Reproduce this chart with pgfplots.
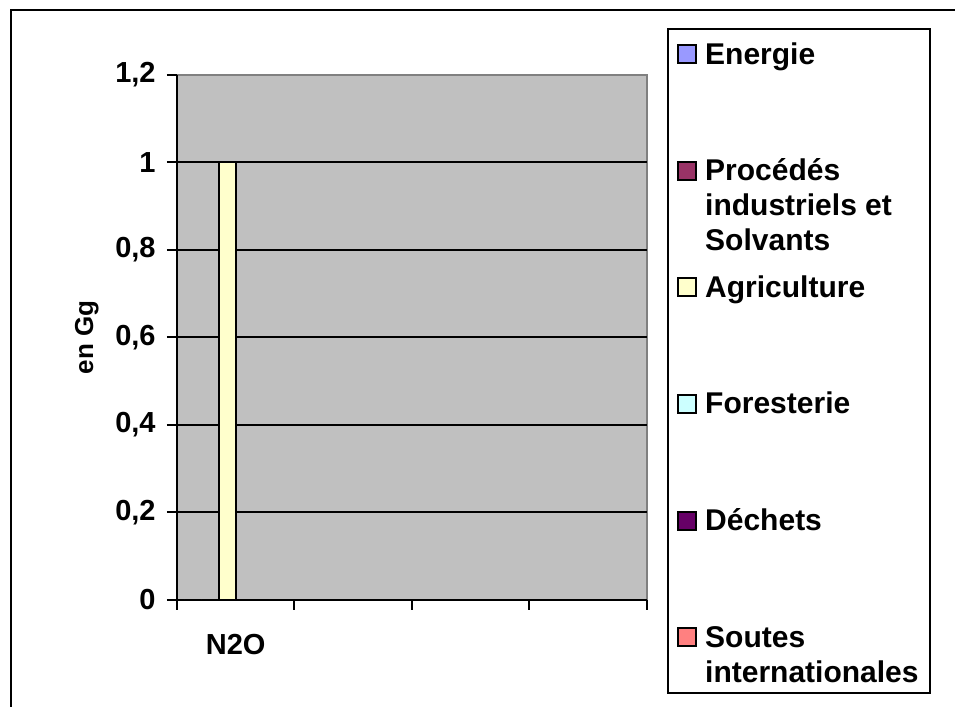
\documentclass[border=0pt]{standalone}
\usepackage{pgfplots}
\pgfplotsset{compat=1.18}
\usepackage{fontspec}
\setmainfont{Liberation Sans}

\definecolor{plotbg}{HTML}{C0C0C0}
\definecolor{frameg}{HTML}{808080}
\definecolor{energie}{HTML}{9999FF}
\definecolor{procedes}{HTML}{993366}
\definecolor{agri}{HTML}{FFFFCC}
\definecolor{forest}{HTML}{CCFFFF}
\definecolor{dechets}{HTML}{660066}
\definecolor{soutes}{HTML}{FF8080}

% legend text: fixed-width column, baseline on the first line
\newcommand\entry[1]{\makebox[108pt][l]{%
  \vtop{\baselineskip=17.5pt\lineskiplimit=0pt\lineskip=0pt #1}}}

% square legend key; the invisible path sets the height of each legend row
\tikzset{legdepth/.initial=43.8pt}
\pgfplotsset{
  legbox/.style={legend image code/.code={%
    \begin{scope}[##1]
    \draw[line width=1pt] (0.5pt,0.5pt) rectangle (9.5pt,9.5pt);
    \path[draw=none,fill=none] (14pt,14.5pt) -- (14pt,-\pgfkeysvalueof{/tikz/legdepth});
    \end{scope}}},
}

\begin{document}
\begin{tikzpicture}
\useasboundingbox (0,0) rectangle (477.5pt,353.5pt);
\draw[line width=0.75pt] (5.5pt,0pt) -- (5.5pt,348.5pt) -- (477.5pt,348.5pt);
\begin{axis}[
  scale only axis, width=235pt, height=262.5pt,
  at={(88.5pt,53.5pt)}, anchor=south west,
  xmin=0, xmax=4, ymin=0, ymax=1.2,
  xtick={0,1,2,3,4}, xticklabels={N2O,,,}, x tick label as interval,
  ytick={0,0.2,0.4,0.6,0.8,1,1.2},
  extra y ticks={0.2,0.4,0.6,0.8,1}, extra y tick labels={},
  extra y tick style={ymajorgrids=true, major tick length=0pt},
  grid style={black, line width=1pt},
  axis background/.style={fill=plotbg, draw=frameg, line width=1pt},
  axis x line*=bottom, axis y line*=left,
  axis line style={black, line width=1pt, -},
  tick style={black, line width=1pt},
  tick align=outside, major tick length=5pt,
  ticklabel style={font=\fontsize{14.5}{16}\selectfont\bfseries},
  /pgf/number format/.cd, use comma, fixed, precision=1, assume math mode=true,
  /pgfplots/.cd,
  yticklabel style={anchor=east, inner sep=0pt, xshift=-5.5pt},
  xticklabel style={anchor=base, inner sep=0pt, yshift=-22.5pt},
  ylabel={en Gg},
  ylabel style={font=\fontsize{13}{15}\selectfont\bfseries,
    at={(axis description cs:-0.1787,0.5)}, anchor=base},
  ybar=0pt, bar width=0.1447,
  every axis plot post/.append style={legbox},
  legend cell align=left,
  legend style={at={(axis description cs:1.0426,1.08952)}, anchor=north west,
    draw=black, line width=1.2pt, fill=white,
    inner xsep=4.5pt, inner ysep=3pt, row sep=0pt, column sep=0pt,
    font=\fontsize{15}{17.5}\selectfont\bfseries},
]
\addplot[fill=energie, draw=black, line width=1pt] coordinates {(0.5,0)};
\addlegendentry[anchor=base west, inner sep=0pt]{\entry{\hbox{Energie}}}
\addplot[fill=procedes, draw=black, line width=1pt] coordinates {(0.5,0)};
\addlegendentry[anchor=base west, inner sep=0pt]{\entry{\hbox{Procédés}\hbox{industriels et}\hbox{Solvants}}}
\addplot[fill=agri, draw=black, line width=1pt] coordinates {(0.5,1)};
\addlegendentry[anchor=base west, inner sep=0pt]{\entry{\hbox{Agriculture}}}
\addplot[fill=forest, draw=black, line width=1pt] coordinates {(0.5,0)};
\addlegendentry[anchor=base west, inner sep=0pt]{\entry{\hbox{Foresterie}}}
\addplot[fill=dechets, draw=black, line width=1pt] coordinates {(0.5,0)};
\addlegendentry[anchor=base west, inner sep=0pt]{\entry{\hbox{Déchets}}}
\addplot[fill=soutes, draw=black, line width=1pt, legdepth=20pt] coordinates {(0.5,0)};
\addlegendentry[anchor=base west, inner sep=0pt]{\entry{\hbox{Soutes}\hbox{internationales}}}
\end{axis}
\end{tikzpicture}
\end{document}
